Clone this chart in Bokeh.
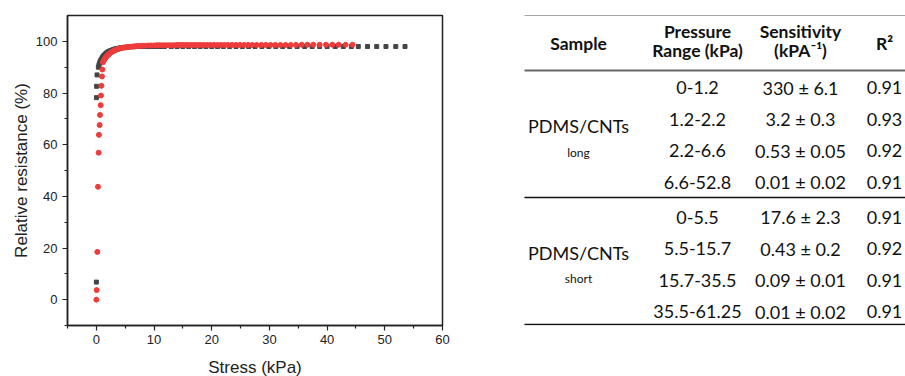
from bokeh.plotting import figure
from bokeh.models import Range1d, FixedTicker
from bokeh.layouts import row
from bokeh.core.properties import value
from bokeh.embed import file_html
from bokeh.resources import INLINE

# ---------------- data: chart ----------------
black_x = [0.0, 0.02, 0.05, 0.12, 0.35, 0.45, 0.55, 0.65, 0.75, 0.85, 1.0, 1.15, 1.3, 1.5, 1.7,
           1.9, 2.1, 2.35, 2.6, 2.9, 3.2, 3.5, 3.8, 4.2, 4.6, 5.0, 5.5, 6.0, 6.5, 7.0, 7.6, 8.2,
           8.8, 9.4, 10.0, 10.6, 11.2, 11.8, 13.0, 14.0, 15.0, 16.0, 17.0, 18.0, 19.0, 20.0,
           21.0, 22.0, 23.1, 24.2, 25.3, 26.4, 27.5, 28.7, 29.9, 31.1, 32.3, 33.5, 34.8, 36.1,
           37.4, 38.7, 40.0, 41.4, 42.8, 44.2, 45.4, 47.0, 48.6, 50.2, 51.9, 53.5]
black_y = [6.8, 78.2, 82.6, 87.0, 90.0, 90.8, 91.5, 92.1, 92.6, 93.0, 93.6, 94.1, 94.5, 95.0, 95.4,
           95.7, 96.0, 96.3, 96.5, 96.8, 97.0, 97.2, 97.3, 97.5, 97.6, 97.7, 97.8, 97.9, 97.9, 98.0,
           98.0, 98.0, 98.0, 98.0, 98.0, 98.0, 98.0, 98.0, 98.0, 98.0, 98.0, 98.0, 98.0, 98.0,
           98.0, 98.0, 98.0, 98.0, 98.0, 98.0, 98.0, 98.0, 98.0, 98.0, 98.0, 98.0, 98.0, 98.0,
           98.0, 98.0, 98.0, 98.0, 98.0, 98.0, 98.0, 98.0, 98.0, 98.0, 98.0, 98.0, 98.0, 98.0]

red_x = [0.0, 0.05, 0.17, 0.28, 0.40, 0.45, 0.57, 0.63, 0.75, 0.80, 0.87, 0.97, 1.04, 1.15, 1.30,
         1.45, 1.60, 1.75, 1.90, 2.05, 2.20, 2.40, 2.60, 2.80, 3.00, 3.25, 3.50, 3.75, 4.00, 4.30,
         4.60, 4.90, 5.20, 5.50, 5.90, 6.30, 6.70, 7.10, 7.50, 8.00, 8.50, 9.00, 9.50, 10.0, 10.5,
         11.0, 11.5, 12.0, 12.5, 13.0, 13.5, 14.0, 14.5, 15.0, 15.5, 16.0, 16.5, 17.0, 17.5, 18.0,
         18.6, 19.2, 19.8, 20.4, 21.0, 21.6, 22.2, 22.8, 23.5, 24.2, 24.9, 25.6, 26.3, 27.0, 27.8,
         28.6, 29.4, 30.2, 31.0, 31.9, 32.8, 33.7, 34.6, 35.6, 36.6, 37.6, 38.7, 39.8, 40.9, 42.0,
         43.2, 44.4]
red_y = [0.0, 3.7, 18.5, 43.7, 56.9, 63.8, 67.6, 71.5, 75.3, 79.0, 82.8, 86.4, 89.1, 91.9, 92.6,
         93.2, 93.7, 94.1, 94.5, 94.8, 95.1, 95.5, 95.8, 96.1, 96.3, 96.6, 96.8, 97.0, 97.2, 97.4,
         97.5, 97.6, 97.7, 97.8, 97.9, 98.0, 98.1, 98.2, 98.2, 98.3, 98.3, 98.4, 98.4, 98.4, 98.5,
         98.5, 98.5, 98.5, 98.5, 98.5, 98.5, 98.6, 98.6, 98.6, 98.6, 98.6, 98.6, 98.6, 98.6, 98.6,
         98.6, 98.6, 98.6, 98.6, 98.6, 98.6, 98.6, 98.6, 98.6, 98.6, 98.6, 98.6, 98.6, 98.6, 98.6,
         98.6, 98.6, 98.6, 98.6, 98.6, 98.6, 98.6, 98.6, 98.7, 98.7, 98.7, 98.7, 98.7, 98.7, 98.7,
         98.7, 98.7]

x_ticks = [0, 10, 20, 30, 40, 50, 60]
x_minor = [-5, 5, 15, 25, 35, 45, 55]
y_ticks = [0, 20, 40, 60, 80, 100]
y_minor = [-10, 10, 30, 50, 70, 90]

# ---------------- data: table ----------------
header_col = ["Sample", "Pressure\nRange (kPa)", "Sensitivity\n(kPA\u207b\u00b9)", "R\u00b2"]
samples = ["PDMS/CNTs", "PDMS/CNTs"]
sample_sub = ["long", "short"]
ranges_long = ["0-1.2", "1.2-2.2", "2.2-6.6", "6.6-52.8"]
sens_long = ["330 \u00b1 6.1", "3.2 \u00b1 0.3", "0.53 \u00b1 0.05", "0.01 \u00b1 0.02"]
r2_long = ["0.91", "0.93", "0.92", "0.91"]
ranges_short = ["0-5.5", "5.5-15.7", "15.7-35.5", "35.5-61.25"]
sens_short = ["17.6 \u00b1 2.3", "0.43 \u00b1 0.2", "0.09 \u00b1 0.01", "0.01 \u00b1 0.02"]
r2_short = ["0.91", "0.92", "0.91", "0.91"]

# ---------------- chart ----------------
AX_FONT = "Liberation Sans"
FRAME_TOP, FRAME_H, FRAME_BOTTOM_BORDER = 15, 310, 51
p = figure(width=460, height=376, frame_width=375, frame_height=FRAME_H,
           x_range=Range1d(-5, 60), y_range=Range1d(-10, 110),
           output_backend="svg", toolbar_location=None,
           min_border_left=67, min_border_right=18, min_border_top=FRAME_TOP,
           min_border_bottom=FRAME_BOTTOM_BORDER)
p.grid.visible = False
p.outline_line_color = "#222222"
p.outline_line_width = 1.5

p.scatter(black_x, black_y, marker="square", size=4, color="#454545")
p.scatter(red_x, red_y, marker="circle", size=5, color="#ee3b3b")

p.xaxis.ticker = FixedTicker(ticks=x_ticks, minor_ticks=x_minor)
p.yaxis.ticker = FixedTicker(ticks=y_ticks, minor_ticks=y_minor)
for ax in (p.xaxis[0], p.yaxis[0]):
    ax.axis_line_color = "#222222"
    ax.axis_line_width = 1.5
    ax.major_tick_line_color = "#222222"
    ax.minor_tick_line_color = "#222222"
    ax.major_tick_line_width = 1.2
    ax.minor_tick_line_width = 1.2
    ax.major_tick_in = 0
    ax.major_tick_out = 5
    ax.minor_tick_in = 0
    ax.minor_tick_out = 3
    ax.major_label_text_font = AX_FONT
    ax.major_label_text_font_size = "13px"
    ax.major_label_text_color = "#222222"
    ax.axis_label_text_font = AX_FONT
    ax.axis_label_text_font_size = "17px"
    ax.axis_label_text_font_style = "normal"
    ax.axis_label_text_color = "#222222"
p.xaxis.axis_label = "Stress (kPa)"
p.yaxis.axis_label = "Relative resistance (%)"
p.xaxis.major_label_standoff = 4
p.xaxis.axis_label_standoff = 11
p.yaxis.major_label_standoff = 5
p.yaxis.axis_label_standoff = 2

# ---------------- table ----------------
TF = "Lato"
t = figure(width=445, height=376, frame_width=445, frame_height=FRAME_H,
           x_range=Range1d(460, 905), y_range=Range1d(FRAME_TOP + FRAME_H, FRAME_TOP),
           output_backend="svg", toolbar_location=None,
           min_border_left=0, min_border_right=0, min_border_top=FRAME_TOP,
           min_border_bottom=FRAME_BOTTOM_BORDER)
t.axis.visible = False
t.grid.visible = False
t.outline_line_color = None

col_x = [578, 697, 800, 884]
t.segment(x0=[524, 524], y0=[14.5, 324], x1=[905, 905], y1=[14.5, 324], line_color="#111111", line_width=1.5)
t.segment(x0=[524], y0=[70], x1=[905], y1=[70], line_color="#666666", line_width=2)
t.segment(x0=[524], y0=[197], x1=[905], y1=[197], line_color="#111111", line_width=1.5)

hx, hy, ht = [], [], []
for i, h in enumerate(header_col):
    parts = h.split("\n")
    if len(parts) == 1:
        hx.append(col_x[i]); hy.append(43); ht.append(parts[0])
    else:
        hx += [col_x[i], col_x[i]]; hy += [31, 50]; ht += parts
t.text(hx, hy, text=ht, text_font=value(TF), text_font_style="bold", text_font_size="17.5px",
       text_align="center", text_baseline="middle", text_color="#111111")

bx, by, bt = [], [], []
groups = [(ranges_long, sens_long, r2_long, 87), (ranges_short, sens_short, r2_short, 216.5)]
for rg, sn, r2, y0 in groups:
    for k in range(4):
        yy = y0 + k * 31.5
        bx += [col_x[1], col_x[2], col_x[3]]
        by += [yy, yy, yy]
        bt += [rg[k], sn[k], r2[k]]
t.text(bx, by, text=bt, text_font=value(TF), text_font_size="18px",
       text_align="center", text_baseline="middle", text_color="#111111")

t.text([col_x[0], col_x[0]], [125, 252], text=samples, text_font=value(TF), text_font_size="18px",
       text_align="center", text_baseline="middle", text_color="#111111")
t.text([col_x[0], col_x[0]], [152, 278], text=sample_sub, text_font=value(TF), text_font_size="12px",
       text_align="center", text_baseline="middle", text_color="#111111")

layout = row(p, t)
open("out.html", "w").write(file_html(layout, INLINE))
